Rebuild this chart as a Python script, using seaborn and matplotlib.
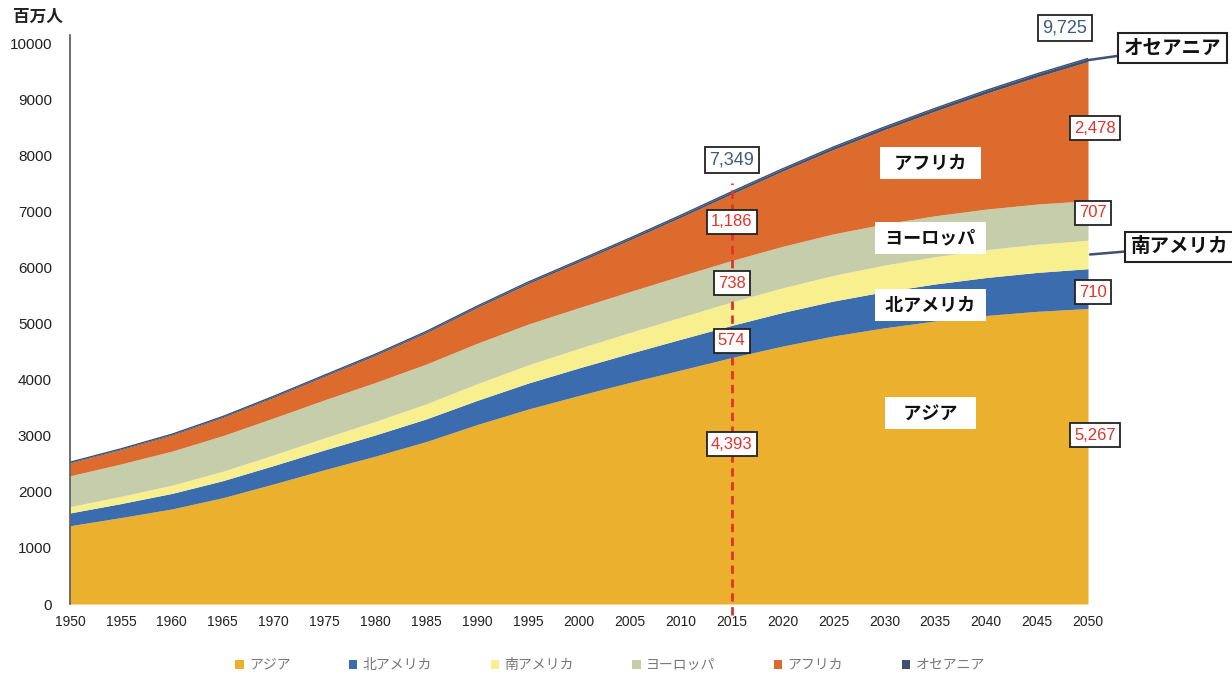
import numpy as np
import pandas as pd
import matplotlib
matplotlib.use("Agg")
import matplotlib.pyplot as plt
import seaborn as sns

# World population by region, millions (1950-2050, 5-year steps)
years = list(range(1950, 2051, 5))
asia = [1395, 1540, 1694, 1894, 2140, 2394, 2636, 2896, 3199, 3474, 3717,
        3950, 4170, 4393, 4598, 4778, 4923, 5045, 5143, 5217, 5267]
north_america = [228, 250, 277, 304, 328, 353, 378, 404, 431, 464, 492,
                 518, 550, 574, 599, 623, 644, 660, 677, 694, 710]
south_america = [113, 129, 147, 168, 191, 215, 241, 269, 297, 324, 348,
                 372, 393, 418, 439, 458, 474, 487, 496, 502, 506]
europe = [549, 577, 606, 635, 657, 677, 694, 708, 721, 727, 726,
          729, 736, 738, 740, 739, 734, 729, 723, 716, 707]
africa = [229, 255, 285, 322, 366, 418, 481, 556, 635, 720, 814,
          920, 1044, 1186, 1340, 1504, 1679, 1866, 2063, 2268, 2478]
oceania = [13, 14, 16, 18, 20, 22, 23, 25, 27, 29, 31,
           33, 37, 40, 42, 45, 48, 50, 53, 55, 57]

regions = ["アジア", "北アメリカ", "南アメリカ", "ヨーロッパ", "アフリカ", "オセアニア"]
colors = ["#EBB02E", "#3B6DAE", "#F8EF8E", "#C6CDAA", "#DD6B2E", "#3E5170"]

df = pd.DataFrame({"year": years, "アジア": asia, "北アメリカ": north_america,
                   "南アメリカ": south_america, "ヨーロッパ": europe,
                   "アフリカ": africa, "オセアニア": oceania})
df["total"] = df[regions].sum(axis=1)

sns.set_theme(style="white")
plt.rcParams["font.family"] = ["Noto Sans CJK JP", "DejaVu Sans"]

fig = plt.figure(figsize=(12.32, 6.81), dpi=100)
ax = fig.add_axes([70 / 1232, 77 / 681, (1088 - 70) / 1232, 569.4 / 681])

ax.stackplot(df["year"], *[df[r] for r in regions], colors=colors,
             labels=regions, linewidth=0)
sns.lineplot(data=df, x="year", y="total", ax=ax, color="#3E5170",
             linewidth=1.0, legend=False)

ax.set_xlim(1950, 2050)
ax.set_ylim(0, 10150)
ax.set_xticks(years)
ax.set_yticks(range(0, 10001, 1000))
ax.set_xticklabels([str(y) for y in years], fontsize=10,
                   family="Liberation Sans", color="#222222")
ax.set_yticklabels([str(v) for v in range(0, 10001, 1000)], fontsize=11,
                   family="Liberation Sans", color="#222222")
ax.tick_params(axis="x", pad=8, length=0)
ax.tick_params(axis="y", pad=13, length=0)
ax.set_xlabel("")
ax.set_ylabel("")
for side in ["top", "right", "bottom"]:
    ax.spines[side].set_visible(False)
ax.spines["left"].set_color("#555555")
ax.spines["left"].set_linewidth(1.2)

fig.text(38 / 1232, 1 - 17 / 681, "百万人", fontsize=12, ha="center",
         va="center", color="#222222", fontweight="bold")

# 2015 reference line
y2015 = df.loc[df["year"] == 2015, "total"].iloc[0]
ax.plot([2015, 2015], [-200, 7500], linestyle=(0, (3, 2)), color="#E2332B",
        linewidth=2, clip_on=False, zorder=3)

def value_box(x, y, text, color, fs=12):
    ax.text(x, y, text, ha="center", va="center", fontsize=fs, color=color,
            family="Liberation Sans", zorder=5, clip_on=False,
            bbox=dict(boxstyle="square,pad=0.25", fc="white", ec="#222222",
                      lw=1.3))

red = "#E2332B"
navy = "#3C5A82"
value_box(2015, 7915, f"{y2015:,}", navy, 13)
value_box(2015, 6810, f"{africa[13]:,}", red)
value_box(2015, 5720, f"{europe[13]:,}", red)
value_box(2015, 4690, f"{north_america[13]:,}", red)
value_box(2015, 2850, f"{asia[13]:,}", red)

y2050 = df.loc[df["year"] == 2050, "total"].iloc[0]
value_box(2047.7, 10270, f"{y2050:,}", navy, 13)
value_box(2050.7, 8485, f"{africa[-1]:,}", red)
value_box(2050.5, 6970, f"{europe[-1]:,}", red)
value_box(2050.5, 5560, f"{north_america[-1]:,}", red)
value_box(2050.7, 3010, f"{asia[-1]:,}", red)

# Region names inside the bands
def band_label(y, text):
    ax.text(2034.5, y, text, ha="center", va="center", fontsize=13,
            fontweight="bold", color="#111111", zorder=5,
            bbox=dict(boxstyle="square,pad=0.35", fc="white", ec="none"))

band_label(7860, "  アフリカ  ")
band_label(6525, " ヨーロッパ ")
band_label(5330, " 北アメリカ ")
band_label(3405, "   アジア   ")

# Callouts for the thin bands
def callout(xt, yt, xp, yp, text):
    ax.annotate(text, xy=(xp, yp), xytext=(xt, yt), ha="center", va="center",
                fontsize=14, fontweight="bold", color="#111111",
                annotation_clip=False, zorder=6,
                bbox=dict(boxstyle="square,pad=0.3", fc="white", ec="#222222",
                          lw=1.5),
                arrowprops=dict(arrowstyle="-", color="#3E5170", lw=1.8,
                                shrinkA=0, shrinkB=0))

callout(2058.3, 9910, 2050, y2050 - 30, "オセアニア")
south_mid = asia[-1] + north_america[-1] + south_america[-1] / 2
callout(2059.0, 6365, 2050.2, south_mid, "南アメリカ")

# Legend along the bottom
handles = [plt.Rectangle((0, 0), 1, 1, fc=c, ec="none") for c in colors]
leg = fig.legend(handles, regions, loc="center", ncol=6,
                 bbox_to_anchor=(610 / 1232, 1 - 665 / 681), frameon=False,
                 fontsize=10, handlelength=0.6, handleheight=0.6,
                 columnspacing=4.2, handletextpad=0.4)
for t in leg.get_texts():
    t.set_color("#777777")

fig.savefig("out.png", dpi=100, facecolor="white")
